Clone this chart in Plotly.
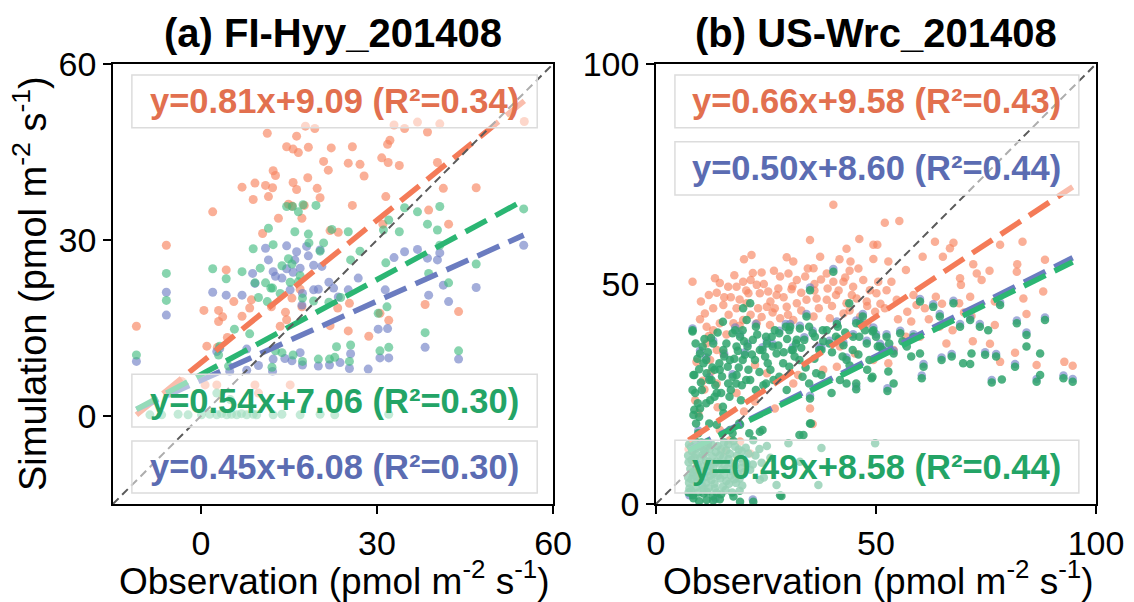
import plotly.graph_objects as go

# ---------------- data: panel (a) FI-Hyy_201408 ----------------
a_orange = [(-11.0,15.3),(-5.9,29.1),(2.0,34.8),(7.0,39.0),(8.9,36.9),(9.2,39.7),(11.0,39.3),(12.2,38.9),
 (11.3,48.2),(12.3,41.8),(12.7,41.0),(11.5,37.4),(14.6,45.9),(15.7,45.5),(16.6,44.9),(16.3,47.7),(18.3,45.8),
 (17.8,49.4),(19.4,49.0),(18.2,40.6),(15.7,39.8),(16.3,38.6),(19.8,38.8),(20.3,37.2),(14.9,36.1),(15.5,35.8),
 (13.2,33.7),(10.5,31.1),(17.6,35.9),(17.2,33.7),(20.9,43.4),(21.7,41.9),(22.2,45.7),(25.8,45.9),(25.1,43.1),
 (27.1,42.9),(27.8,40.9),(25.8,35.9),(22.0,31.6),(23.4,31.3),(30.8,44.0),(31.9,43.2),(32.2,47.0),(31.8,46.3),
 (33.8,42.7),(31.5,37.4),(32.9,49.6),(34.7,49.0),(36.9,50.1),(38.6,48.4),(40.7,49.8),(40.3,43.2),(41.3,38.8),
 (38.8,35.1),(42.2,32.7),(46.9,38.9),(55.1,50.2),(31.0,32.7),(4.3,24.9),(3.0,18.0),(0.5,18.0),(3.7,16.9),
 (3.0,16.1),(5.6,19.5),(7.0,17.0),(8.6,19.8),(8.3,18.4),(12.0,18.6),(13.5,15.3),(14.6,16.4),(15.5,20.1),
 (14.4,17.7),(16.9,21.6),(17.2,18.6),(22.0,15.4),(23.3,18.4),(25.3,19.2),(25.1,14.5),(28.6,13.6),(32.0,16.3),
 (30.5,17.5),(38.2,19.0),(43.9,17.8),(1.0,11.9),(2.8,11.7),(4.5,13.4),(0.7,5.3),(2.7,5.3),(9.2,5.3),(15.2,5.3),
 (9.8,3.9),(-3.3,5.9)]

a_green = [(-11.0,10.4),(-5.9,24.3),(-5.9,19.7),(2.0,25.1),(4.3,23.4),(7.0,24.6),(8.9,28.5),(9.2,22.7),(11.0,22.7),
 (11.5,32.0),(12.2,21.8),(12.3,29.2),(14.6,35.7),(15.6,35.7),(16.6,34.8),(17.4,36.0),(19.6,35.9),(16.0,31.4),
 (18.3,31.0),(14.9,26.8),(15.5,25.9),(16.9,23.9),(16.6,22.9),(18.4,29.5),(20.3,28.1),(20.9,29.5),(22.3,31.8),
 (25.1,31.4),(25.5,26.6),(27.1,28.1),(31.1,31.7),(32.0,33.4),(31.5,26.1),(33.8,31.4),(34.7,35.5),(36.9,34.8),
 (38.6,32.7),(40.7,35.7),(40.3,31.7),(40.7,29.1),(42.2,22.7),(38.8,24.3),(46.9,25.9),(55.0,35.3),(31.7,18.6),
 (30.2,17.5),(38.2,14.2),(43.9,11.1),(30.5,11.1),(32.0,11.7),(25.5,12.1),(25.3,9.3),(23.1,11.8),(22.8,10.0),
 (21.9,9.7),(20.0,9.7),(17.3,9.3),(15.7,10.4),(13.8,10.8),(12.7,11.1),(12.1,8.3),(8.3,14.0),(5.7,14.8),(3.2,11.9),
 (3.0,10.4),(4.7,8.5),(9.8,20.2),(11.9,21.8),(10.1,25.2),(13.8,25.6),(15.2,22.8),(13.5,20.9),(11.3,19.5),
 (17.3,20.1),(19.2,19.6),(21.8,19.4),(23.8,20.2),
 (-8.7,0.2),(-6.7,0.2),(-3.9,0.3),(-2.2,0.2),(0.1,0.2),(1.5,0.3),(2.7,0.2),(3.5,0.4),(4.4,0.2),(5.2,0.3),
 (6.1,0.2),(6.9,0.4),(7.8,0.2),(8.9,0.3),(9.5,0.2),(12.3,0.2),(13.8,0.3),(16.9,0.2),(20.3,0.3),(22.8,0.2),
 (32.0,0.3),(2.7,3.9),(5.0,2.8)]

a_blue = [(-11.0,9.3),(-5.9,21.1),(-5.9,17.2),(2.0,21.1),(4.3,20.6),(7.0,20.6),(8.8,24.3),(9.2,22.6),(11.0,28.6),
 (11.5,26.6),(12.3,24.6),(12.7,23.8),(14.6,29.0),(16.3,28.0),(16.0,26.6),(18.3,27.3),(18.0,28.9),(20.3,28.3),
 (19.2,25.7),(20.6,25.5),(16.9,25.2),(14.6,25.1),(15.7,24.5),(13.8,23.5),(15.2,21.5),(17.3,20.9),(17.2,18.9),
 (19.2,21.5),(20.0,21.6),(21.8,22.8),(22.6,21.8),(23.4,20.3),(25.1,21.5),(26.8,23.5),(31.4,21.5),(32.9,27.0),
 (34.7,28.0),(36.9,28.4),(38.6,26.9),(40.3,26.6),(40.7,27.8),(41.3,22.3),(38.8,20.6),(42.2,19.5),(46.9,21.9),
 (55.0,29.1),(30.2,14.8),(31.8,14.9),(30.5,9.9),(32.0,9.9),(38.2,11.7),(43.9,9.7),(25.5,10.6),(25.3,8.1),
 (28.5,8.0),(23.7,9.1),(21.9,8.7),(20.0,8.5),(17.3,8.7),(15.5,9.4),(14.3,9.8),(12.3,9.7),(12.2,7.6),(9.8,8.6),
 (7.8,7.8),(4.9,7.6),(2.7,11.0),(7.8,11.4),(3.2,11.5),(16.9,10.8)]

# ---------------- data: panel (b) US-Wrc_201408 ----------------
b_orange = [(40.3,68.0),(52.0,63.9),(55.3,64.3),(35.0,60.0),(46.2,60.2),(49.4,58.9),(50.3,58.9),(43.3,58.0),
 (21.7,56.6),(20.0,55.6),(29.7,56.1),(31.2,55.1),(37.3,56.2),(41.7,55.6),(44.2,55.1),(49.4,55.7),(52.8,55.1),
 (56.8,53.2),(67.6,59.4),(63.4,59.6),(66.8,58.1),(60.6,56.2),(65.2,56.2),(72.1,54.5),(78.2,58.9),(83.3,59.6),
 (88.4,55.5),(72.9,52.4),(75.8,53.0),(82.1,54.5),(82.0,52.8),(69.1,51.3),(74.0,50.9),(69.3,49.8),(71.4,47.1),
 (77.0,46.0),(83.5,46.7),(88.0,48.3),(84.2,43.2),(77.0,40.7),(75.9,36.4),(81.6,34.4),(78.2,32.3),(86.5,31.6),
 (92.8,32.3),(94.7,31.4),(71.7,42.7),(68.9,45.6),(63.6,47.1),(61.1,44.5),(59.2,45.2),(57.1,43.7),(64.4,40.3),
 (67.4,39.5),(52.8,32.0),(56.8,38.0),(35.0,21.7),(35.6,18.2),(32.3,29.3),(8.3,50.5),(13.4,51.3),(14.5,50.2),
 (16.4,49.4),(18.3,49.4),(19.8,50.5),(21.5,50.9),(22.9,49.8),(21.0,47.9),(23.6,47.9),(25.5,48.3),(27.4,47.5),
 (28.2,51.7),(30.1,52.4),(32.0,50.9),(33.9,51.7),(35.8,53.6),(38.8,52.4),(40.3,50.5),(42.6,50.5),(44.8,49.4),
 (47.1,50.9),(48.6,48.6),(50.1,47.9),(52.4,48.6),(54.7,46.4),(58.5,47.5),(11.1,43.3),(13.0,44.5),(15.3,45.2),
 (18.3,44.5),(20.6,45.6),(23.2,44.5),(25.2,44.8),(27.0,44.5),(29.7,44.8),(32.0,45.6),(34.2,46.4),(36.5,46.7),
 (38.8,46.4),(40.9,47.5),(43.3,45.6),(45.6,46.7),(47.9,46.0),(49.8,43.7),(52.0,44.5),(11.5,40.3),(14.5,41.1),
 (17.6,41.1),(19.8,41.8),(22.9,41.1),(25.9,40.7),(28.2,42.2),(31.2,41.8),(35.8,42.6),(39.5,42.2),(42.6,43.3),
 (46.4,42.6),(11.5,36.5),(13.8,35.0),(9.2,32.3),(12.3,32.7),(15.3,34.2),(8.9,23.6),(9.6,20.6),(13.8,27.4),
 (22.5,31.6),(25.2,29.7),(31.2,27.4),(18.3,25.2),(22.5,23.3),(14.5,16.8),(16.8,14.5),(19.1,14.2),(21.4,11.5),
 (49.4,32.7),(45.2,34.2),(41.8,35.8),(54.0,35.0),(38.0,30.5),(41.1,31.2),(27.0,21.7),(8.5,12.3),(7.4,12.5),
 (10.2,46.0),(12.0,38.2),(16.0,38.5),(26.8,53.0),(24.0,52.6),(30.8,48.8),(36.0,50.0),(44.0,53.0),(17.0,47.0),
 (10.6,28.0),(12.5,30.0),(11.8,13.0),(15.6,12.0),
 (12.0,47.5),(13.8,48.0),(15.5,47.0),(17.8,52.0),(19.0,46.5),(20.5,48.5),(22.0,52.5),(24.5,50.0),(26.0,46.0),
 (27.8,49.0),(29.0,47.0),(31.0,49.5),(33.0,48.0),(34.5,53.5),(36.0,48.5),(37.5,51.0),(39.0,49.0),(41.5,48.5),
 (43.0,51.5),(44.5,47.5),(46.0,53.5),(48.0,45.0),(50.5,50.5),(51.0,45.5),(53.5,50.5),(10.0,42.0),(13.0,39.5),
 (16.5,43.0),(19.0,40.5),(21.5,43.0),(24.0,42.5),(26.5,43.5),(30.0,43.0),(33.0,44.0),(37.0,44.5),(40.0,45.0),
 (44.0,44.0),(48.0,41.0),(55.0,42.0),(58.0,41.5),(62.0,42.0),(65.0,45.5),(70.0,43.5),(60.0,38.0),(66.0,36.5),
 (72.0,37.0),(11.0,26.0),(14.0,22.0),(20.0,21.0)]

b_blue = [(8.3,39.9),(11.4,33.3),(15.5,34.1),(20.8,36.4),(22.7,40.9),(28.0,39.4),(29.5,40.9),(33.7,37.9),
 (35.6,39.4),(30.5,40.9),(32.7,40.5),(34.2,43.2),(35.0,49.2),(40.3,53.4),(41.1,41.5),(44.8,38.6),(46.4,41.5),
 (49.4,40.1),(52.4,38.6),(55.5,39.4),(58.5,38.6),(60.0,46.6),(63.0,45.4),(64.5,43.2),(67.6,46.2),(69.1,40.9),
 (71.4,42.4),(73.6,40.9),(78.2,45.8),(82.0,41.7),(84.2,39.0),(88.4,42.4),(74.8,34.5),(77.3,34.1),(67.2,34.1),
 (64.9,33.3),(60.8,31.8),(54.0,34.8),(50.9,36.4),(47.9,37.1),(43.3,33.3),(42.6,36.7),(37.6,35.6),(25.2,37.1),
 (19.1,38.6),(18.0,40.1),(13.0,37.1),(10.0,34.8),(12.1,28.8),(17.4,29.5),(24.2,35.6),(26.5,36.4),(31.1,35.6),
 (37.1,35.6),(39.4,37.1),(45.5,41.7),(47.0,43.2),(50.0,38.6),(51.5,35.6),(52.6,26.3),(45.5,26.7),(35.0,24.6),
 (20.2,34.5),(86.5,28.4),(92.6,29.2),(94.7,28.4),(81.6,31.8),(76.3,28.2),(60.4,29.2),(9.6,16.7),(7.6,2.0),
 (13.5,1.2),(22.0,1.0)]

b_green = [(8.3,39.2),(8.5,29.3),(8.9,25.2),(8.5,20.2),(10.0,34.2),(10.8,32.0),(11.5,29.7),(12.6,28.2),(10.4,25.9),
 (12.3,23.6),(13.8,25.2),(14.5,30.5),(13.0,36.5),(15.3,35.0),(16.8,32.7),(18.3,35.8),(19.1,38.0),(20.6,41.8),
 (21.4,45.6),(19.8,44.5),(18.0,39.5),(20.2,33.9),(22.5,32.7),(23.6,35.0),(25.2,36.5),(26.3,38.0),(27.4,34.2),
 (28.9,32.0),(30.8,35.0),(32.0,37.3),(30.5,40.3),(32.7,39.9),(35.0,48.6),(34.2,42.6),(36.1,38.0),(37.6,35.0),
 (38.8,39.5),(40.3,52.8),(41.1,40.9),(42.6,36.1),(43.3,32.7),(44.8,38.0),(46.4,40.9),(47.9,36.5),(49.4,39.5),
 (50.9,35.8),(52.4,38.0),(54.0,34.2),(55.5,38.8),(57.0,35.8),(58.5,38.0),(60.0,34.2),(60.8,31.2),(60.0,46.0),
 (63.0,44.8),(64.5,42.6),(67.6,45.6),(69.1,40.3),(71.4,41.8),(73.6,40.3),(75.5,39.5),(78.2,45.2),(82.0,41.1),
 (84.2,38.4),(84.2,35.8),(88.4,41.8),(87.3,34.2),(74.8,33.9),(77.3,33.5),(71.7,34.2),(67.2,33.5),(64.9,32.7),
 (69.8,32.0),(71.4,31.8),(76.3,27.6),(78.6,28.3),(81.6,31.2),(86.5,27.8),(87.3,29.3),(92.6,28.6),(94.7,27.8),
 (60.4,28.6),(52.8,30.1),(54.0,27.4),(52.6,25.7),(45.5,26.1),(41.8,28.2),(49.0,28.6),(35.0,24.0),(35.0,18.3),
 (33.5,15.7),(23.6,16.4),(22.1,14.5),(19.1,18.0),(15.3,20.6),(29.7,25.9),(26.7,28.2),(24.4,27.0),(21.4,28.2),
 (18.3,29.3),(16.4,27.4),(37.6,29.3),(39.9,25.2),(43.3,27.4),(10.0,21.7),(13.8,18.0),(16.8,16.8),(9.6,16.1),
 (8.3,39.5),(8.7,29.3),(9.8,30.6),(11.4,32.7),(12.1,28.2),(13.3,30.5),(14.4,32.0),(15.5,33.5),(16.3,31.2),
 (17.4,28.9),(18.6,34.8),(19.7,32.7),(20.8,35.8),(22.0,37.3),(22.7,40.3),(24.2,35.0),(25.4,32.0),(26.5,35.8),
 (28.0,38.8),(29.5,40.3),(31.1,35.0),(32.6,32.7),(33.7,37.3),(35.6,38.8),(37.1,35.0),(39.4,36.5),(41.3,40.3),
 (42.4,33.5),(44.7,35.0),(46.2,38.0),(48.5,32.7),(50.0,38.0),(51.5,35.0),(11.4,22.9),(13.3,24.4),(15.2,22.1),
 (9.8,19.8),(9.1,18.3),(12.1,18.3),(17.0,25.9),(19.3,23.6),(18.2,27.4),(14.8,25.2),(20.5,28.2),(22.7,25.9),
 (25.0,27.4),(28.0,28.9),(30.3,31.2),(33.3,28.9),(36.4,29.7),(8.3,25.9),(9.5,22.9),(8.7,21.4),(10.6,35.8),
 (12.5,37.7),(15.2,41.4),(17.4,38.8),(19.7,39.5),(25.0,38.0),(30.3,39.5),(31.8,36.5),(34.8,40.3),(37.9,39.5),
 (40.9,38.0),(43.9,45.6),(45.5,41.1),(47.0,42.6),(49.2,39.2),(50.4,35.8),(45.5,27.4),(49.2,28.9),(34.8,27.4),
 (35.2,18.3),(24.2,16.8),(21.2,16.1),(32.6,15.7),(18.9,18.3),(17.4,16.1),
 (9.0,36.5),(9.4,33.0),(10.2,27.6),(11.0,37.5),(11.8,34.5),(12.8,31.0),(13.5,27.0),(14.0,39.0),(15.0,29.0),
 (16.0,36.5),(16.7,24.4),(17.8,33.0),(18.8,31.0),(19.5,27.0),(20.0,37.0),(21.0,30.5),(21.8,34.0),(23.0,38.5),
 (23.5,30.0),(24.8,33.5),(26.0,30.5),(27.0,39.5),(27.8,36.0),(29.0,34.5),(29.8,37.5),(31.5,33.5),(33.0,35.5),
 (34.0,31.0),(36.0,33.0),(38.0,37.0),(40.0,34.5),(41.5,37.5),(43.0,39.0),(44.0,31.5),(46.0,34.0),(47.5,39.5),
 (48.0,30.5),(53.0,36.5),(56.0,37.0),(58.0,33.5),
 (28.2,2.0),(22.1,0.5),(8.5,1.3),(11.5,0.9),(14.5,1.1),(17.6,1.7),(19.1,0.5),(10.8,2.4),
 (7.5,13.5),(8.2,12.0),(8.8,10.5),(9.5,9.0),(7.8,8.0),(8.5,6.5),(9.2,5.0),(7.6,3.5),(8.4,2.0),(10.0,13.0),
 (10.6,11.2),(11.3,9.8),(10.2,7.5),(11.0,6.0),(10.5,4.2),(11.6,2.8),(12.2,12.5),(12.8,10.8),(12.4,8.6),
 (13.1,7.0),(12.6,5.4),(13.4,3.6),(12.9,1.8),(14.0,13.2),(14.5,11.0),(14.2,9.2),(15.0,7.8),(14.6,5.8),
 (15.2,4.0),(14.8,2.2),(16.0,12.2),(16.5,10.2),(16.2,8.2),(17.0,6.5),(16.6,4.6),(17.3,2.6),(18.0,13.0),
 (18.4,11.0),(18.0,8.8),(18.6,6.8),(18.2,4.8),(19.0,3.0),(19.5,12.0),(19.8,9.5),(20.0,7.2),(21.0,11.5),
 (22.0,9.0),(23.5,12.5),(24.5,6.0),(26.0,10.5),(9.0,14.2),(11.8,14.0),(15.5,14.0),(17.6,14.3),(20.6,9.2),
 (23.6,5.5),(27.4,4.3),(30.1,13.8),(32.7,9.6),(36.9,4.3),(37.6,12.7),(49.8,13.8),(28.5,1.8),(13.0,0.8),(9.8,0.6),
 (7.3,11.0),(7.4,9.5),(7.3,6.0),(7.5,4.8),(7.4,2.6),(8.0,13.0),(8.1,10.0),(8.3,7.2),(8.1,5.6),(8.0,3.0),
 (9.0,12.6),(9.1,11.3),(9.0,7.8),(9.3,6.2),(9.1,3.8),(9.6,2.6),(10.3,14.0),(10.8,12.2),(10.1,10.4),(10.6,8.6),
 (10.0,5.6),(10.8,3.4),(11.5,13.2),(11.2,11.6),(11.8,7.4),(11.4,4.8),(12.0,3.6),(12.6,13.6),(12.0,9.6),
 (13.0,8.2),(12.3,6.4),(13.3,4.6),(13.6,11.8),(13.7,9.6),(14.0,6.4),(13.8,2.6),(14.8,12.4),(15.3,10.6),
 (15.6,8.8),(15.4,6.6),(15.8,3.2),(16.4,13.6),(16.8,11.4),(17.2,9.2),(17.4,7.4),(16.0,5.2),(17.8,5.6),
 (18.8,12.4),(19.2,10.4),(19.4,8.2),(19.0,5.8),(19.6,4.2),(20.4,12.8),(21.4,7.8),(22.6,11.0),(24.0,9.4),
 (25.2,13.2)]

# regression fits (slope, intercept, R2) as printed on the chart
fits_a = {"orange": (0.81, 9.09, 0.34), "green": (0.54, 7.06, 0.30), "blue": (0.45, 6.08, 0.30)}
fits_b = {"orange": (0.66, 9.58, 0.43), "blue": (0.50, 8.60, 0.44), "green": (0.49, 8.58, 0.44)}

titles = ["(a) FI-Hyy_201408", "(b) US-Wrc_201408"]
ranges = [(-15, 60), (0, 100)]
ticks = [[0, 30, 60], [0, 50, 100]]

# ---------------- styles ----------------
FONT = "Liberation Sans, Arial, sans-serif"
mk = {"orange": "#f7845f", "blue": "#7281c6", "green": "#3dba7c"}
ln = {"orange": "#f47b58", "blue": "#6b7cc0", "green": "#2bb673"}
tx = {"orange": "#e2704f", "blue": "#5b6cb2", "green": "#23a466"}

fig = go.Figure()

def add_panel(xa, ya, series, fits, order, green_col, green_op, msize):
    for name in order:
        pts = series[name]
        col = green_col if name == "green" else mk[name]
        op = green_op if name == "green" else 0.65
        fig.add_trace(go.Scatter(x=[p[0] for p in pts], y=[p[1] for p in pts], mode="markers",
                                 xaxis=xa, yaxis=ya,
                                 marker=dict(color=col, size=msize, opacity=op, line=dict(width=0)),
                                 showlegend=False, hoverinfo="skip"))
    for name in order:
        s, b, _ = fits[name]
        xs = [p[0] for p in series[name]]
        x0, x1 = min(xs), max(xs)
        fig.add_trace(go.Scatter(x=[x0, x1], y=[s * x0 + b, s * x1 + b], mode="lines", xaxis=xa, yaxis=ya,
                                 line=dict(color=ln[name], width=5.5, dash="24px,10px"),
                                 showlegend=False, hoverinfo="skip"))

add_panel("x", "y", {"orange": a_orange, "blue": a_blue, "green": a_green}, fits_a,
          ["orange", "blue", "green"], "#3dba7c", 0.62, 9)
add_panel("x2", "y2", {"orange": b_orange, "blue": b_blue, "green": b_green}, fits_b,
          ["orange", "blue", "green"], "#2ea36c", 0.85, 8.5)

# 1:1 lines
for i, (xa, ya) in enumerate([("x", "y"), ("x2", "y2")]):
    lo, hi = ranges[i]
    fig.add_trace(go.Scatter(x=[lo, hi], y=[lo, hi], mode="lines", xaxis=xa, yaxis=ya,
                             line=dict(color="#5a5a5a", width=2, dash="8px,5px"),
                             showlegend=False, hoverinfo="skip"))

# equation boxes (semi-transparent) and texts
boxes = [
    ("x", "y", fits_a, [("orange", 0.855, 0.975), ("green", 0.175, 0.295), ("blue", 0.025, 0.143)], 0.043, 0.964),
    ("x2", "y2", fits_b, [("orange", 0.855, 0.975), ("blue", 0.702, 0.823), ("green", 0.025, 0.145)], 0.043, 0.961),
]
shapes = []
annotations = []
for xa, ya, fits, items, bx0, bx1 in boxes:
    xr = xa + " domain"
    yr = ya + " domain"
    for name, y0, y1 in items:
        shapes.append(dict(type="rect", xref=xr, yref=yr, x0=bx0, x1=bx1, y0=y0, y1=y1,
                           fillcolor="rgba(255,255,255,0.5)", line=dict(color="#dcdcdc", width=1.5),
                           layer="above"))
        s, b, r2 = fits[name]
        annotations.append(dict(xref=xr, yref=yr, x=(bx0 + bx1) / 2, y=(y0 + y1) / 2,
                                text=f"<b>y={s:.2f}x+{b:.2f} (R²={r2:.2f})</b>", showarrow=False,
                                font=dict(family=FONT, size=34.5, color=tx[name]),
                                xanchor="center", yanchor="middle"))

# panel titles, axis titles
XD = [[0.0996, 0.4877], [0.5785, 0.9665]]
YD = [0.1628, 0.8937]
for i in range(2):
    cx = (XD[i][0] + XD[i][1]) / 2
    annotations.append(dict(xref="paper", yref="paper", x=cx, y=1 - 33 / 602, text=f"<b>{titles[i]}</b>",
                            showarrow=False, font=dict(family=FONT, size=40, color="black"),
                            xanchor="center", yanchor="middle"))
    annotations.append(dict(xref="paper", yref="paper", x=cx + 2 / 1134, y=1 - 578 / 602,
                            text="Observation (pmol m<sup>-2</sup> s<sup>-1</sup>)",
                            showarrow=False, font=dict(family=FONT, size=37, color="black"),
                            xanchor="center", yanchor="middle"))
annotations.append(dict(xref="paper", yref="paper", x=30 / 1134, y=(YD[0] + YD[1]) / 2,
                        text="Simulation (pmol m<sup>-2</sup> s<sup>-1</sup>)", textangle=-90,
                        showarrow=False, font=dict(family=FONT, size=38, color="black"),
                        xanchor="center", yanchor="middle"))

axis_common = dict(showline=True, mirror=True, linecolor="black", linewidth=1.6, ticks="outside",
                   ticklen=8, tickwidth=1.5, tickcolor="black", showgrid=False, zeroline=False,
                   tickfont=dict(family=FONT, size=34, color="black"), fixedrange=True, automargin=False)

fig.update_layout(
    width=1134, height=602, margin=dict(l=0, r=0, t=0, b=0, pad=0),
    paper_bgcolor="white", plot_bgcolor="white", showlegend=False,
    xaxis=dict(domain=XD[0], range=list(ranges[0]), tickvals=ticks[0], anchor="y", **axis_common),
    yaxis=dict(domain=YD, range=list(ranges[0]), tickvals=ticks[0], anchor="x", **axis_common),
    xaxis2=dict(domain=XD[1], range=list(ranges[1]), tickvals=ticks[1], anchor="y2", **axis_common),
    yaxis2=dict(domain=YD, range=list(ranges[1]), tickvals=ticks[1], anchor="x2", **axis_common),
    shapes=shapes, annotations=annotations,
)

fig.write_html("out.html", config={"displayModeBar": False},
               post_script="document.body.style.margin='0px';document.body.style.overflow='hidden';")
